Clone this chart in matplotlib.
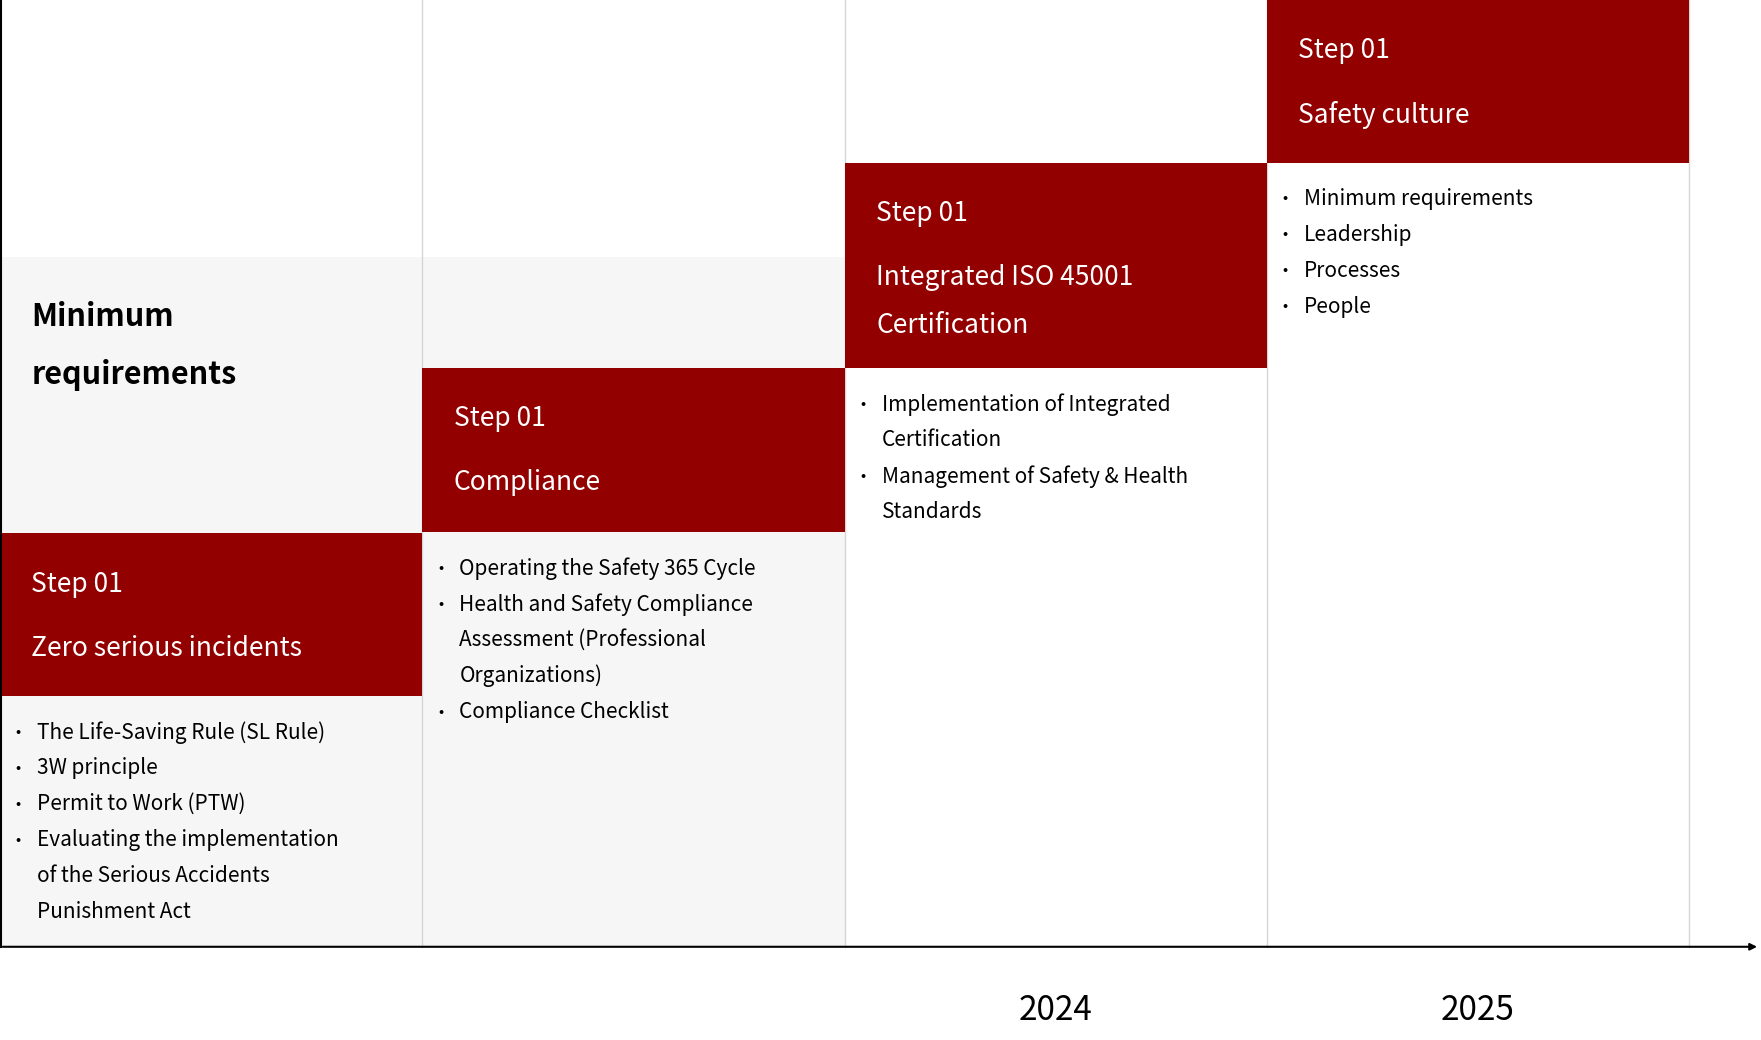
import matplotlib.pyplot as plt
from matplotlib.patches import Rectangle

plt.rcParams['font.family'] = ['Noto Sans CJK KR', 'DejaVu Sans']

RED = '#920000'
GREY = '#f6f6f6'

step_labels = ['Step 01', 'Step 01', 'Step 01', 'Step 01']
step_titles = [['Zero serious incidents'],
               ['Compliance'],
               ['Integrated ISO 45001', 'Certification'],
               ['Safety culture']]
bullets = [
    [['The Life-Saving Rule (SL Rule)'], ['3W principle'], ['Permit to Work (PTW)'],
     ['Evaluating the implementation', 'of the Serious Accidents', 'Punishment Act']],
    [['Operating the Safety 365 Cycle'],
     ['Health and Safety Compliance', 'Assessment (Professional', 'Organizations)'],
     ['Compliance Checklist']],
    [['Implementation of Integrated', 'Certification'],
     ['Management of Safety & Health', 'Standards']],
    [['Minimum requirements'], ['Leadership'], ['Processes'], ['People']],
]
years = ['', '', '2024', '2025']

# layout (in a 1568 x 926 canvas)
W, H = 1568, 926
col_w = 376
base = 843
box_top = [475, 328, 145, 0]
box_bot = [620, 474, 328, 145]

fig = plt.figure(figsize=(17.61, 10.40), dpi=100)
ax = fig.add_axes([0, 0, 1, 1])
ax.set_xlim(0, W)
ax.set_ylim(H, 0)
ax.axis('off')

# grey backgrounds
ax.add_patch(Rectangle((0, 229), 2 * col_w, base - 229, color=GREY, lw=0, zorder=0))

for i in range(4):
    x0 = i * col_w
    ax.add_patch(Rectangle((x0, box_top[i]), col_w, box_bot[i] - box_top[i],
                           color=RED, lw=0, zorder=2))
    ax.plot([x0 + col_w, x0 + col_w], [0, base], color='#d6d6d6', lw=1, zorder=1)
    tx = x0 + 28
    ax.text(tx, box_top[i] + 45, step_labels[i], color='white', fontsize=19,
            va='center', zorder=3)
    for j, t in enumerate(step_titles[i]):
        ax.text(tx, box_top[i] + 102 + j * 43, t, color='white', fontsize=19,
                va='center', zorder=3)
    y = box_bot[i] + 32
    for item in bullets[i]:
        ax.text(x0 + 14, y, '•', fontsize=11, va='center', zorder=3)
        for line in item:
            ax.text(x0 + 33, y, line, fontsize=15, va='center', zorder=3)
            y += 32
    if years[i]:
        ax.text(x0 + col_w / 2, 900, years[i], fontsize=24, ha='center', va='center')

ax.text(28, 282, 'Minimum', fontsize=22, fontweight='bold', va='center')
ax.text(28, 334, 'requirements', fontsize=22, fontweight='bold', va='center')

# axes
ax.plot([1, 1], [0, base], color='black', lw=1.5, zorder=4)
ax.annotate('', xy=(W - 1, base), xytext=(0, base),
            arrowprops=dict(arrowstyle='-|>', color='black', lw=1.5,
                            mutation_scale=10), zorder=4)

fig.savefig('out.png', dpi=100)
